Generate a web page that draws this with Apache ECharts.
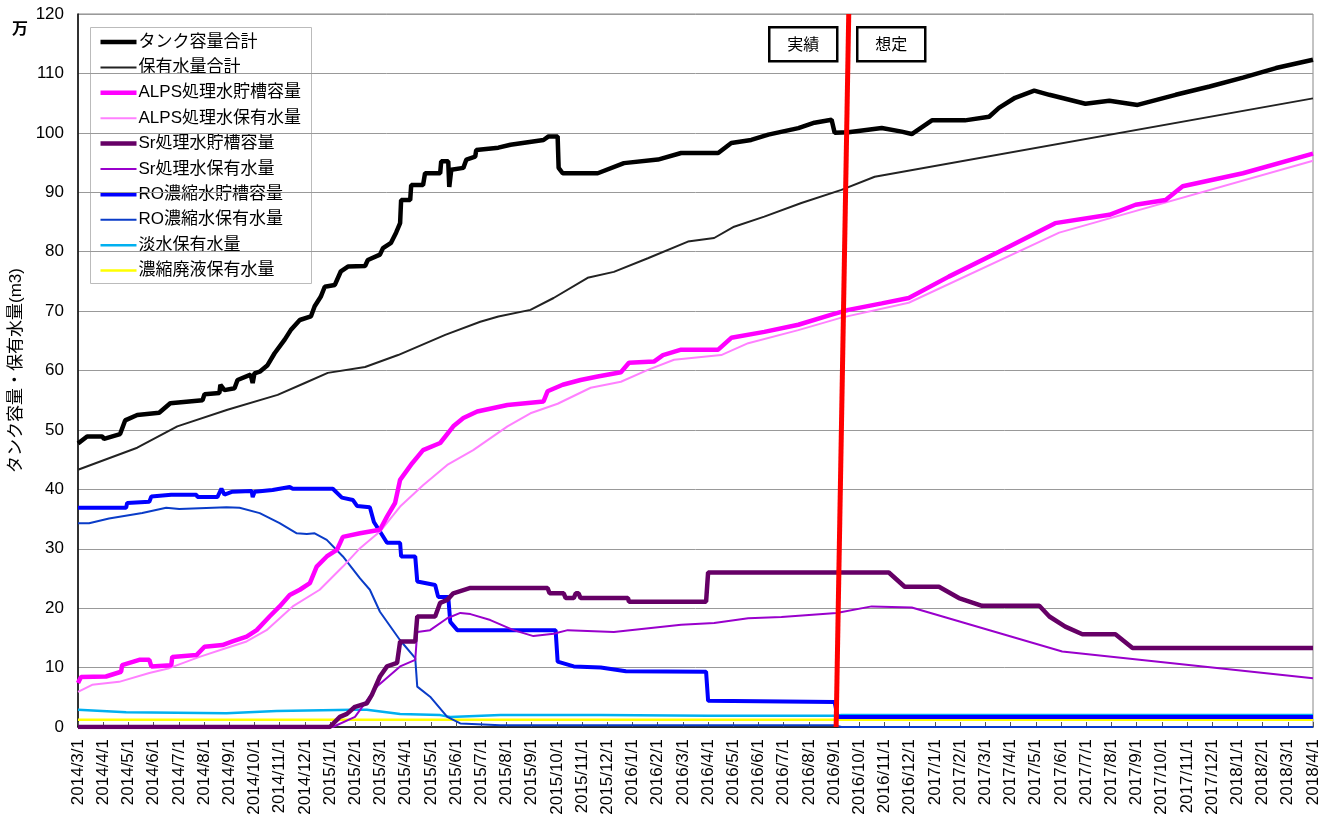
<!DOCTYPE html>
<html>
<head>
<meta charset="utf-8">
<script src="https://cdn.jsdelivr.net/npm/echarts@6/dist/echarts.min.js"></script>
<style>
html,body{margin:0;padding:0;background:#fff;}
#chart{width:1332px;height:817px;}
</style>
</head>
<body>
<div id="chart"></div>
<script>
// x tick labels (month index 0 = 2014/3/1)
const monthLabels = [
 '2014/3/1','2014/4/1','2014/5/1','2014/6/1','2014/7/1','2014/8/1','2014/9/1','2014/10/1','2014/11/1','2014/12/1',
 '2015/1/1','2015/2/1','2015/3/1','2015/4/1','2015/5/1','2015/6/1','2015/7/1','2015/8/1','2015/9/1','2015/10/1',
 '2015/11/1','2015/12/1','2016/1/1','2016/2/1','2016/3/1','2016/4/1','2016/5/1','2016/6/1','2016/7/1','2016/8/1',
 '2016/9/1','2016/10/1','2016/11/1','2016/12/1','2017/1/1','2017/2/1','2017/3/1','2017/4/1','2017/5/1','2017/6/1',
 '2017/7/1','2017/8/1','2017/9/1','2017/10/1','2017/11/1','2017/12/1','2018/1/1','2018/2/1','2018/3/1','2018/4/1'
];
const yTicks = [0,10,20,30,40,50,60,70,80,90,100,110,120];

// Series values: [month index from 2014/3/1, 万m3]
const tankTotal = [
 [0,47.7],[0.36,48.9],[0.96,48.9],[1.03,48.5],[1.67,49.3],[1.87,51.6],[2.35,52.5],[3.22,52.9],[3.66,54.5],[4.94,55],
 [5.02,56],[5.61,56.2],[5.65,57.6],[5.81,56.7],[6.21,57],[6.33,58.4],[6.85,59.3],[6.93,57.9],[7.0,59.5],[7.21,59.8],
 [7.52,60.9],[7.8,62.9],[8.2,65.2],[8.44,66.8],[8.8,68.5],[9.24,69.1],[9.39,70.8],[9.63,72.4],[9.79,74.1],[10.19,74.4],
 [10.43,76.7],[10.71,77.5],[11.39,77.6],[11.5,78.6],[11.98,79.5],[12.1,80.6],[12.42,81.5],[12.62,83.2],[12.78,84.8],[12.82,88.7],
 [13.18,88.7],[13.22,91.2],[13.69,91.2],[13.77,93.2],[14.37,93.2],[14.41,95.2],[14.69,95.2],[14.73,90.9],[14.81,93.8],[15.29,94.1],
 [15.41,95.5],[15.76,96],[15.8,97.1],[16.68,97.5],[17.16,98],[18.47,98.8],[18.67,99.4],[19.03,99.4],[19.07,94.1],[19.23,93.2],
 [20.62,93.2],[21.66,94.9],[23.01,95.5],[23.93,96.6],[25.4,96.6],[25.92,98.3],[26.71,98.8],[27.39,99.7],[28.58,100.8],[29.22,101.7],
 [29.9,102.2],[30.02,100],[30.57,100.1],[31.89,100.8],[32.68,100.2],[33.08,99.8],[33.88,102.1],[35.19,102.1],[36.15,102.7],[36.54,104.2],
 [37.18,105.9],[37.94,107.1],[38.54,106.4],[39.97,104.9],[40.92,105.4],[42.04,104.7],[43.55,106.4],[44.9,107.8],[46.22,109.3],[47.53,110.9],[49,112.3]
];
const heldTotal = [
 [0,43.3],[2.35,47],[3.94,50.6],[5.93,53.4],[7.92,55.9],[9,57.9],[9.91,59.6],[11.39,60.6],[12.7,62.6],[14.57,66],
 [15.96,68.2],[16.68,69.1],[17.95,70.2],[18.87,72.2],[20.22,75.6],[21.26,76.6],[22.61,78.9],[24.2,81.7],[25.24,82.3],[26.03,84.2],
 [27.23,85.9],[28.7,88.2],[30.29,90.4],[31.61,92.6],[49,105.8]
];
const alpsCap = [
 [0,7.4],[0.12,8.4],[1.11,8.5],[1.71,9.3],[1.75,10.4],[2.43,11.3],[2.83,11.3],[2.91,10.2],[3.7,10.4],[3.74,11.8],
 [4.7,12.1],[5.02,13.5],[5.73,13.8],[6.13,14.4],[6.69,15.2],[7.09,16.3],[7.6,18.6],[8,20.3],[8.4,22.2],[8.8,23.1],
 [9.2,24.2],[9.47,27],[9.87,28.7],[10.27,29.8],[10.51,32],[11.19,32.6],[11.98,33.2],[12.26,35.4],[12.58,37.7],[12.78,41.6],
 [13.26,44.4],[13.69,46.6],[14.37,47.8],[14.89,50.6],[15.29,52],[15.84,53.1],[17.04,54.2],[18.47,54.8],[18.63,56.5],[19.23,57.6],
 [19.94,58.4],[20.62,59],[21.54,59.7],[21.86,61.3],[22.85,61.5],[23.21,62.6],[23.93,63.5],[25.4,63.5],[25.92,65.5],[27.23,66.5],
 [28.58,67.7],[29.9,69.4],[30.57,70.2],[31.89,71.3],[32.96,72.2],[34.55,75.8],[36.54,80],[38.77,84.8],[40.92,86.2],[41.96,87.9],
 [43.15,88.7],[43.83,91],[46.22,93.2],[49,96.5]
];
const alpsHeld = [
 [0,5.9],[0.56,7.1],[1.63,7.6],[2.83,9.1],[3.62,9.9],[4.82,11.8],[5.89,13.3],[6.69,14.4],[7.48,16.3],[8.52,20.3],
 [9.59,23.1],[10.51,27],[11.19,30.1],[11.98,32.9],[12.78,37.1],[13.69,40.7],[14.65,44.1],[15.68,46.6],[17.04,50.6],[17.95,52.8],
 [19.03,54.4],[20.34,57.1],[21.54,58.1],[22.61,60.1],[23.65,61.8],[25.52,62.6],[26.59,64.6],[28.58,66.8],[30.29,68.9],[32.96,71.4],
 [38.93,83.2],[49,95.3]
];
const srCap = [
 [0,0],[9.99,0],[10.39,1.7],[10.67,2.2],[10.99,3.4],[11.46,4],[11.66,5.4],[11.98,8.5],[12.26,10.2],[12.66,10.8],
 [12.78,14.4],[13.38,14.4],[13.46,18.6],[14.17,18.6],[14.37,20.9],[14.65,21.4],[14.89,22.5],[15.57,23.4],[18.63,23.4],[18.71,22.5],
 [19.27,22.5],[19.35,21.7],[19.67,21.7],[19.75,22.5],[19.86,22.5],[19.94,21.7],[21.82,21.7],[21.86,21.1],[24.92,21.1],[25,26],
 [32.17,26],[32.8,23.6],[34.16,23.6],[34.95,21.7],[35.87,20.4],[38.14,20.4],[38.54,18.6],[39.17,16.9],[39.85,15.6],[41.16,15.6],
 [41.84,13.3],[49,13.3]
];
const srHeld = [
 [0,0],[10.11,0],[10.99,1.7],[11.86,6.8],[12.78,10.2],[13.38,11.3],[13.46,16],[13.97,16.3],[14.65,18.3],[15.17,19.2],
 [15.57,19],[16.36,18],[17.28,16.3],[18.07,15.3],[18.87,15.7],[19.43,16.3],[21.26,16],[23.93,17.2],[25.24,17.5],[26.59,18.3],
 [27.91,18.5],[30.1,19.2],[31.49,20.3],[33.08,20.1],[39.05,12.7],[49,8.2]
];
const roCap = [
 [0,36.9],[1.91,36.9],[1.95,37.7],[2.83,37.9],[2.91,38.8],[3.7,39.1],[4.7,39.1],[4.74,38.7],[5.53,38.7],[5.69,40.1],
 [5.81,39.1],[6.13,39.6],[6.89,39.7],[6.93,38.7],[7.01,39.6],[7.72,39.9],[8.4,40.4],[8.52,40.1],[10.11,40.1],[10.47,38.6],
 [10.91,38.2],[11.07,37.2],[11.58,37],[11.74,34.5],[11.98,32.9],[12.26,31],[12.78,31],[12.82,28.7],[13.38,28.7],[13.46,24.5],
 [14.17,23.9],[14.29,21.9],[14.69,21.9],[14.77,17.7],[15.05,16.3],[18.95,16.3],[19.03,11],[19.67,10.2],[20.74,10],[21.74,9.4],
 [24.92,9.3],[25,4.4],[30.02,4.2],[30.14,1.7],[49,1.7]
];
const roHeld = [
 [0,34.3],[0.44,34.3],[1.23,35.1],[2.55,36],[3.5,36.9],[4.02,36.7],[5.89,37],[6.41,36.9],[7.21,36],[8,34.3],
 [8.68,32.6],[9.08,32.5],[9.39,32.6],[9.87,31.5],[10.51,28.7],[11.19,25],[11.58,23.1],[11.98,19.4],[12.78,14.6],[13.38,11.6],
 [13.46,6.8],[13.97,5.1],[14.65,1.7],[15.17,0.6],[16.76,0.3],[30.02,0.3],[30.29,0],[49,0]
];
const freshHeld = [
 [0,2.9],[1.91,2.5],[5.89,2.3],[7.88,2.7],[10.91,2.9],[11.46,2.9],[12.78,2.2],[14.37,2],[14.77,1.7],[16.76,2],
 [20.74,2],[25,1.9],[30.02,1.9],[30.29,2.0],[49,2.0]
];
const brineHeld = [[0,1.2],[15,1.2],[30,1.2],[49,1.2]];
// divider between actual (実績) and projected (想定)
const dividerLine = [[30.58,120],[30.08,0]];

const names = ['タンク容量合計','保有水量合計','ALPS処理水貯槽容量','ALPS処理水保有水量','Sr処理水貯槽容量','Sr処理水保有水量','RO濃縮水貯槽容量','RO濃縮水保有水量','淡水保有水量','濃縮廃液保有水量'];
const seriesData = [tankTotal, heldTotal, alpsCap, alpsHeld, srCap, srHeld, roCap, roHeld, freshHeld, brineHeld];

// styles (kept apart from data)
const colors = ['#000000','#222222','#FF00FF','#FF80FF','#660066','#9900CC','#0000FF','#0A3CC8','#00B0F0','#FFFF00'];
const widths = [4.5,2,4.5,2,4.5,2,4,2,2.5,2.5];
const zs = [5,4,4,3,4,3,3,3,2,2];

const NUMF = "'Liberation Sans', Arial, 'Noto Sans CJK JP', sans-serif";
const JPFONT = "'Liberation Sans', 'Noto Sans CJK JP', sans-serif";

const series = names.map((n,i)=>({
  name:n, type:'line', data:seriesData[i], showSymbol:false, symbol:'none', z:zs[i],
  lineStyle:{color:colors[i], width:widths[i]}, itemStyle:{color:colors[i]}, emphasis:{disabled:true}
})).reverse();
series.push({name:'divider', type:'line', data:dividerLine, showSymbol:false, symbol:'none', z:8,
  lineStyle:{color:'#FF0000', width:5}, emphasis:{disabled:true}});

// legend drawn as graphic (line samples of true widths)
const legendChildren = [
  {type:'rect', shape:{x:0,y:0,width:221,height:256}, style:{fill:'#fff', stroke:'#bbb', lineWidth:1}}
];
names.forEach((n,i)=>{
  const cy = 14.5 + i*25.4;
  legendChildren.push({type:'line', shape:{x1:10,y1:cy,x2:46,y2:cy},
    style:{stroke:colors[i], lineWidth:widths[i]}});
  legendChildren.push({type:'text', x:48, y:cy, style:{text:n, font:"17px "+JPFONT, fill:'#000', verticalAlign:'middle'}});
});

const chart = echarts.init(document.getElementById('chart'), null, {renderer:'canvas'});
chart.setOption({
  animation:false,
  backgroundColor:'#fff',
  grid:{left:78, right:19, top:14, bottom:90, show:true, borderColor:'#888', borderWidth:1, outerBoundsMode:'none', containLabel:false},
  xAxis:{
    type:'value', min:0, max:monthLabels.length-1, interval:1,
    axisLine:{show:true, onZero:false, lineStyle:{color:'#000', width:1.5}},
    axisTick:{show:true, inside:true, length:5, lineStyle:{color:'#555'}},
    splitLine:{show:false},
    axisLabel:{rotate:90, margin:12, fontFamily:NUMF, fontSize:17, color:'#000',
      formatter:v=>monthLabels[Math.round(v)]||''}
  },
  yAxis:{
    type:'value', min:yTicks[0], max:yTicks[yTicks.length-1], interval:10,
    name:'タンク容量・保有水量(m3)', nameLocation:'middle', nameGap:51, nameRotate:90,
    nameTextStyle:{fontFamily:JPFONT, fontSize:17, color:'#000'},
    axisLine:{show:true, lineStyle:{color:'#000', width:1.5}},
    axisTick:{show:false},
    splitLine:{show:true, lineStyle:{color:'#999', width:1}},
    axisLabel:{margin:14, fontFamily:NUMF, fontSize:17, color:'#000'}
  },
  graphic:[
    {type:'text', left:12, top:20, style:{text:'万', font:"bold 16px 'Noto Sans CJK JP'", fill:'#000'}},
    {type:'group', left:90, top:27, z:20, children:legendChildren},
    {type:'group', left:768, top:26, z:20, children:[
      {type:'rect', shape:{x:0,y:0,width:68,height:34}, style:{fill:'#fff', stroke:'#000', lineWidth:2.5}},
      {type:'text', x:34, y:17, style:{text:'実績', font:"16px 'Noto Sans CJK JP'", fill:'#000', align:'center', verticalAlign:'middle'}}
    ]},
    {type:'group', left:856, top:26, z:20, children:[
      {type:'rect', shape:{x:0,y:0,width:68,height:34}, style:{fill:'#fff', stroke:'#000', lineWidth:2.5}},
      {type:'text', x:34, y:17, style:{text:'想定', font:"16px 'Noto Sans CJK JP'", fill:'#000', align:'center', verticalAlign:'middle'}}
    ]}
  ],
  series: series
});
</script>
</body>
</html>
